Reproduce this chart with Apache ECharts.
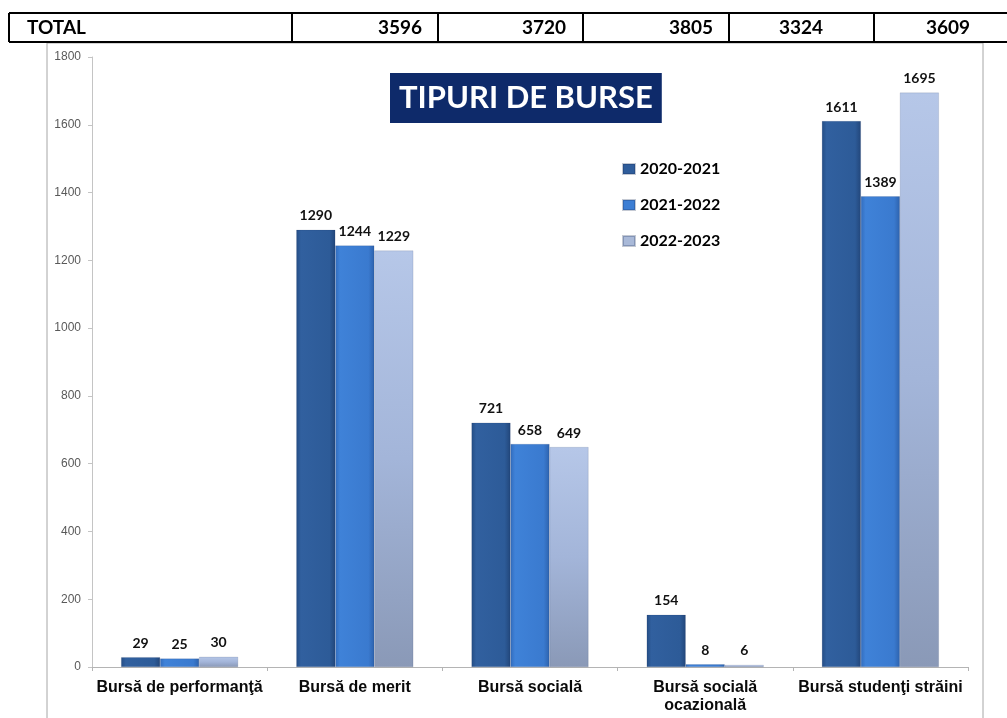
<!DOCTYPE html>
<html>
<head>
<meta charset="utf-8">
<script src="https://cdn.jsdelivr.net/npm/echarts@6/dist/echarts.min.js"></script>
<style>
html,body{margin:0;padding:0;background:#fff;}
#c{width:1007px;height:718px;}
</style>
</head>
<body>
<div id="c"></div>
<script>
// ---- data ----
var categories = ['Bursă de performanţă', 'Bursă de merit', 'Bursă socială', 'Bursă socială\nocazională', 'Bursă studenţi străini'];
var seriesNames = ['2020-2021', '2021-2022', '2022-2023'];
var values2020 = [29, 1290, 721, 154, 1611];
var values2021 = [25, 1244, 658, 8, 1389];
var values2022 = [30, 1229, 649, 6, 1695];
var yTicks = [0, 200, 400, 600, 800, 1000, 1200, 1400, 1600, 1800];
var totalLabel = 'TOTAL';
var totalValues = ['3596', '3720', '3805', '3324', '3609'];
var titleText = 'TIPURI DE BURSE';

// ---- styles ----
var grad = function (stops, vertical) {
  return new echarts.graphic.LinearGradient(0, 0, vertical ? 0 : 1, vertical ? 1 : 0,
    stops.map(function (c) { return { offset: c[0], color: c[1] }; }));
};
var colors = [
  grad([[0, '#244d85'], [0.12, '#31609f'], [0.85, '#2d5b98'], [1, '#22467a']]),
  grad([[0, '#326cbd'], [0.12, '#3f82d8'], [0.85, '#3a7acf'], [1, '#2d62ad']]),
  grad([[0, '#b6c7e8'], [0.5, '#a3b5d9'], [1, '#8a99b7']], true)
];
var legendColors = ['#2f5d9b', '#3c7ed4', '#a9b9d8'];
var dataSets = [values2020, values2021, values2022];

var tableLines = [];
var yTop = 13, yBot = 42;
tableLines.push({ type: 'line', shape: { x1: 9, y1: yTop, x2: 1007, y2: yTop }, style: { stroke: '#000', lineWidth: 2 } });
tableLines.push({ type: 'line', shape: { x1: 9, y1: yBot, x2: 1007, y2: yBot }, style: { stroke: '#000', lineWidth: 2 } });
[9, 292, 438, 583, 729, 874].forEach(function (x) {
  tableLines.push({ type: 'line', shape: { x1: x, y1: yTop, x2: x, y2: yBot }, style: { stroke: '#000', lineWidth: 2 } });
});
var tFont = 'bold 19px Lato';
tableLines.push({ type: 'text', style: { text: totalLabel, x: 27, y: 28, font: tFont, fill: '#000', textAlign: 'left', textVerticalAlign: 'middle' } });
var numPos = [[422, 'right'], [566, 'right'], [713, 'right'], [801, 'center'], [970, 'right']];
totalValues.forEach(function (v, i) {
  tableLines.push({ type: 'text', style: { text: v, x: numPos[i][0], y: 28, font: tFont, fill: '#000', textAlign: numPos[i][1], textVerticalAlign: 'middle' } });
});
// chart frame
tableLines.push({ type: 'rect', z: -10, shape: { x: 47, y: 43, width: 936, height: 720 }, style: { fill: 'none', stroke: '#a6a6a6', lineWidth: 1 } });

var chart = echarts.init(document.getElementById('c'), null, { renderer: 'canvas' });
var option = {
  animation: false,
  backgroundColor: '#fff',
  title: {
    text: titleText,
    left: 390, top: 73,
    backgroundColor: '#0e2a6a',
    padding: [9, 9, 9, 9],
    textStyle: { color: '#fff', fontFamily: 'Lato', fontWeight: 'bold', fontSize: 31, lineHeight: 32 }
  },
  legend: {
    orient: 'vertical',
    left: 622, top: 161,
    padding: 0,
    itemWidth: 12, itemHeight: 10, itemGap: 20,
    icon: 'rect',
    data: seriesNames.map(function (n, i) { return { name: n, itemStyle: { color: legendColors[i] } }; }),
    textStyle: { fontFamily: 'Lato', fontWeight: 'bold', fontSize: 16, color: '#000', lineHeight: 12, padding: [0, 0, 0, 0] }
  },
  grid: { left: 92, right: 39, top: 57, bottom: 51, containLabel: false },
  xAxis: {
    type: 'category',
    data: categories,
    axisLine: { lineStyle: { color: '#b4b4b4', width: 1 } },
    axisTick: { show: true, length: 4, lineStyle: { color: '#b4b4b4' } },
    axisLabel: { interval: 0, margin: 12, fontFamily: 'Liberation Sans', fontWeight: 'bold', fontSize: 16, color: '#0a0a0a', lineHeight: 18 }
  },
  yAxis: {
    type: 'value',
    min: 0, max: yTicks[yTicks.length - 1], interval: yTicks[1] - yTicks[0],
    axisLine: { show: true, lineStyle: { color: '#c4c4c4' } },
    axisTick: { show: true, length: 4, lineStyle: { color: '#c4c4c4' } },
    splitLine: { show: false },
    axisLabel: { margin: 11, fontFamily: 'Liberation Sans', fontSize: 12, color: '#595959', formatter: function (v) { return String(v); } }
  },
  series: seriesNames.map(function (n, i) {
    return {
      name: n,
      type: 'bar',
      data: dataSets[i],
      barWidth: 39,
      barGap: '0%',
      itemStyle: { color: colors[i], borderColor: 'rgba(20,40,80,0.25)', borderWidth: 0.5 },
      label: { show: true, position: 'top', distance: 7, fontFamily: 'Lato', fontWeight: 'bold', fontSize: 14, color: '#111' }
    };
  }),
  graphic: { elements: tableLines }
};
chart.setOption(option);
</script>
</body>
</html>
